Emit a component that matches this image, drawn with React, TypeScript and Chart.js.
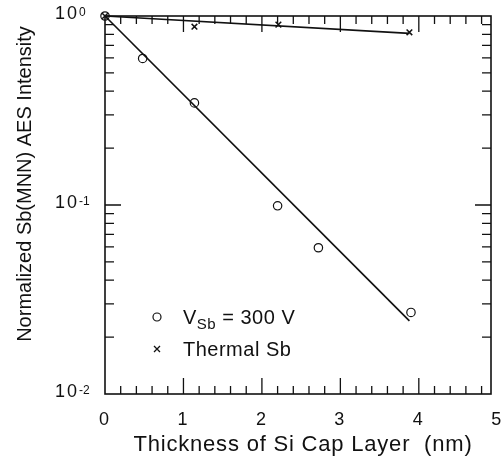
import React, { useEffect, useRef } from 'react';
import { Chart, registerables } from 'chart.js';

Chart.register(...registerables);

// ---- data ----
const vsbThickness = [0, 0.48, 1.14, 2.2, 2.72, 3.9];
const vsbIntensity = [1.0, 0.596, 0.347, 0.099, 0.0594, 0.027];
const thermalThickness = [0, 1.14, 2.21, 3.88];
const thermalIntensity = [1.0, 0.878, 0.9, 0.82];
const vsbFitThickness = [0, 3.88];
const vsbFitIntensity = [1.0, 0.0244];
const thermalFitThickness = [0, 3.88];
const thermalFitIntensity = [1.0, 0.81];

const xTickLabels = [0, 1, 2, 3, 4, 5];
const yTickExponents = [0, -1, -2];
const xTitle = 'Thickness of Si Cap Layer  (nm)';
const yTitle = 'Normalized Sb(MNN) AES Intensity';
const legendVsbMain = 'V';
const legendVsbSub = 'Sb';
const legendVsbRest = ' = 300 V';
const legendThermal = 'Thermal Sb';

const FONT = '"Liberation Sans", Arial, Helvetica, sans-serif';

const zip = (xs: number[], ys: number[]) => xs.map((x, i) => ({ x, y: ys[i] }));

const setSpacing = (ctx: any, s: string) => {
  if ('letterSpacing' in ctx) ctx.letterSpacing = s;
};

const decorPlugin = {
  id: 'decor',
  afterDraw(chart: any) {
    const ctx = chart.ctx as CanvasRenderingContext2D;
    const { left, right, top, bottom } = chart.chartArea;
    const xs = chart.scales.x;
    const ys = chart.scales.y;
    ctx.save();
    ctx.strokeStyle = '#111';
    ctx.fillStyle = '#111';
    // frame
    ctx.lineWidth = 1.6;
    ctx.strokeRect(left, top, right - left, bottom - top);

    // x ticks (inward, bottom and top)
    ctx.lineWidth = 1.3;
    const MAJ = 16, MIN = 8;
    for (let i = 1; i <= 24; i++) {
      const v = i / 5;
      const px = xs.getPixelForValue(v);
      if (px > right - 1) continue;
      const len = i % 5 === 0 ? MAJ : MIN;
      ctx.beginPath();
      ctx.moveTo(px, bottom);
      ctx.lineTo(px, bottom - len);
      ctx.moveTo(px, top);
      ctx.lineTo(px, top + len);
      ctx.stroke();
    }
    // y ticks (inward, left and right)
    for (let d = -2; d <= -1; d++) {
      for (let m = 1; m <= 9; m++) {
        const v = m * Math.pow(10, d);
        const py = ys.getPixelForValue(v);
        if (m === 1 && d === -2) continue;
        const len = m === 1 ? MAJ : 9;
        ctx.beginPath();
        ctx.moveTo(left, py);
        ctx.lineTo(left + len, py);
        ctx.moveTo(right, py);
        ctx.lineTo(right - len, py);
        ctx.stroke();
      }
    }

    // x tick labels
    ctx.font = `18px ${FONT}`;
    ctx.textAlign = 'center';
    ctx.textBaseline = 'middle';
    for (const v of xTickLabels) {
      const px = xs.getPixelForValue(v);
      ctx.fillText(String(v), px - 1, 420);
    }

    // y tick labels: 10^e
    for (const e of yTickExponents) {
      const py = ys.getPixelForValue(Math.pow(10, e));
      const cy = py - 2;
      ctx.font = `18px ${FONT}`;
      ctx.textAlign = 'left';
      ctx.textBaseline = 'middle';
      setSpacing(ctx, '2px');
      ctx.fillText('10', 55, cy);
      setSpacing(ctx, '0px');
      ctx.font = `12px ${FONT}`;
      ctx.textBaseline = 'top';
      ctx.fillText(e === 0 ? '0' : `-${-e}`, 79, cy - 7);
    }

    // axis titles
    ctx.font = `22px ${FONT}`;
    ctx.textAlign = 'center';
    ctx.textBaseline = 'middle';
    setSpacing(ctx, '0.8px');
    ctx.fillText(xTitle, 303, 445);
    setSpacing(ctx, '0px');
    ctx.font = `20px ${FONT}`;
    ctx.save();
    ctx.translate(25, 184);
    ctx.rotate(-Math.PI / 2);
    ctx.fillText(yTitle, 0, 0);
    ctx.restore();

    // legend
    ctx.lineWidth = 1.2;
    ctx.beginPath();
    ctx.arc(157, 317, 4, 0, Math.PI * 2);
    ctx.stroke();
    ctx.textAlign = 'left';
    ctx.textBaseline = 'alphabetic';
    setSpacing(ctx, '0.5px');
    ctx.font = `20px ${FONT}`;
    let x0 = 183;
    ctx.fillText(legendVsbMain, x0, 324);
    x0 += ctx.measureText(legendVsbMain).width;
    ctx.font = `15px ${FONT}`;
    ctx.fillText(legendVsbSub, x0, 329);
    x0 += ctx.measureText(legendVsbSub).width;
    ctx.font = `20px ${FONT}`;
    ctx.fillText(legendVsbRest, x0, 324);

    ctx.lineWidth = 1.3;
    ctx.beginPath();
    ctx.moveTo(154, 346);
    ctx.lineTo(160, 352);
    ctx.moveTo(160, 346);
    ctx.lineTo(154, 352);
    ctx.stroke();
    ctx.fillText(legendThermal, 183, 356);
    setSpacing(ctx, '0px');

    ctx.restore();
  },
};

export default function App() {
  const ref = useRef<HTMLCanvasElement | null>(null);
  useEffect(() => {
    if (!ref.current) return;
    const chart = new Chart(ref.current, {
      type: 'scatter',
      data: {
        datasets: [
          {
            label: 'VSb = 300 V',
            data: zip(vsbThickness, vsbIntensity),
            pointStyle: 'circle',
            pointRadius: 4.2,
            borderColor: '#111',
            backgroundColor: 'rgba(255,255,255,0)',
            borderWidth: 1.2,
            showLine: false,
            clip: false,
          } as any,
          {
            label: 'Thermal Sb',
            data: zip(thermalThickness, thermalIntensity),
            pointStyle: 'crossRot',
            pointRadius: 4,
            borderColor: '#111',
            borderWidth: 1.5,
            showLine: false,
            clip: false,
          } as any,
          {
            label: 'VSb fit',
            data: zip(vsbFitThickness, vsbFitIntensity),
            showLine: true,
            pointRadius: 0,
            borderColor: '#111',
            borderWidth: 1.7,
            clip: false,
          } as any,
          {
            label: 'Thermal fit',
            data: zip(thermalFitThickness, thermalFitIntensity),
            showLine: true,
            pointRadius: 0,
            borderColor: '#111',
            borderWidth: 1.7,
            clip: false,
          } as any,
        ],
      },
      options: {
        animation: false,
        responsive: false,
        devicePixelRatio: 1,
        layout: { padding: { left: 105, right: 10, top: 16, bottom: 68 } },
        plugins: { legend: { display: false }, tooltip: { enabled: false } },
        scales: {
          x: { type: 'linear', min: 0, max: 4.92, display: false },
          y: { type: 'logarithmic', min: 0.01, max: 1, display: false },
        },
      },
      plugins: [decorPlugin],
    });
    return () => chart.destroy();
  }, []);
  return (
    <div style={{ position: 'absolute', left: 0, top: 0, width: 501, height: 462, background: '#fff' }}>
      <canvas ref={ref} width={501} height={462} style={{ width: 501, height: 462 }} />
    </div>
  );
}
